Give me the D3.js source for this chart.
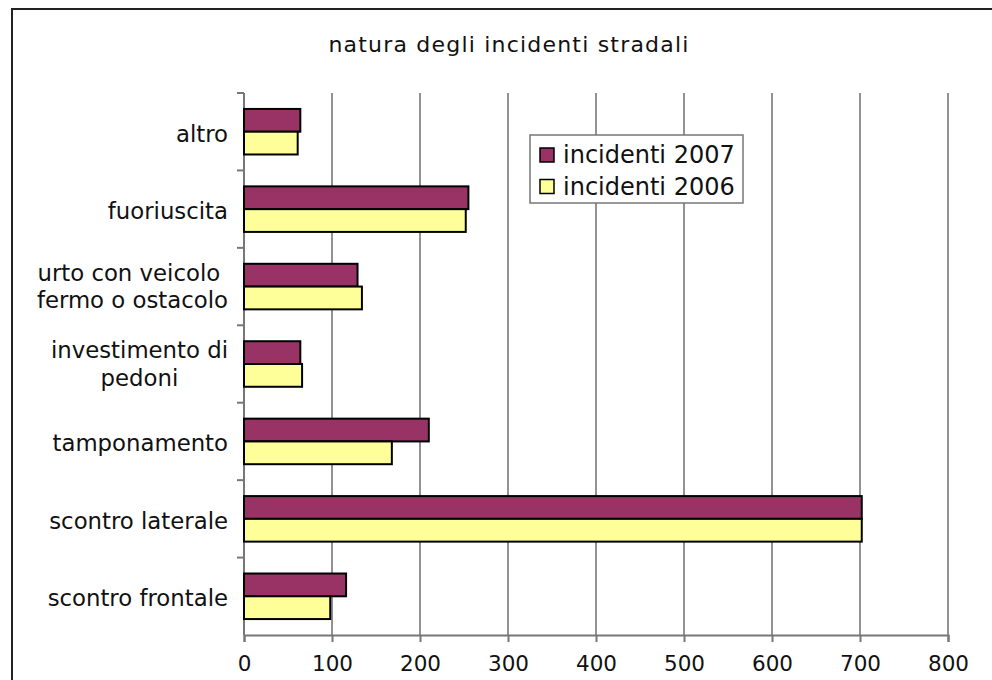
<!DOCTYPE html>
<html>
<head>
<meta charset="utf-8">
<script src="https://cdn.jsdelivr.net/npm/d3@7"></script>
<style>
  body { margin: 0; background: #fff; }
  svg { display: block; font-family: "DejaVu Sans", Verdana, sans-serif; }
</style>
</head>
<body>
<div id="chart"></div>
<script>
// categories (top to bottom) and their label lines
var categories = ["altro", "fuoriuscita", "urto", "investimento", "tamponamento", "laterale", "frontale"];
var categoryLabels = [
  ["altro"],
  ["fuoriuscita"],
  ["urto con veicolo ", "fermo o ostacolo"],
  ["investimento di", "pedoni"],
  ["tamponamento"],
  ["scontro laterale"],
  ["scontro frontale"]
];
var seriesNames = ["incidenti 2007", "incidenti 2006"];
var values2007 = [64, 255, 129, 64, 210, 702, 116];
var values2006 = [61, 252, 134, 66, 168, 702, 98];
var xTicks = [0, 100, 200, 300, 400, 500, 600, 700, 800];
var colors = ["#993366", "#FFFF99"];

var W = 992, H = 680;

// set the dimensions and margins of the graph
var margin = { top: 93, left: 244, right: 992 - 948, bottom: 680 - 635 },
  width = W - margin.left - margin.right,
  height = H - margin.top - margin.bottom;

var svg = d3.select("#chart").append("svg").attr("width", W).attr("height", H);

// outer frame
svg.append("rect")
  .attr("x", 12).attr("y", 9)
  .attr("width", W + 20).attr("height", H + 20)
  .style("fill", "none").style("stroke", "#222").style("stroke-width", 2);

// title
svg.append("text")
  .attr("x", 509).attr("y", 52)
  .attr("text-anchor", "middle")
  .style("font-size", "22px")
  .style("letter-spacing", "1.2px")
  .style("fill", "#111")
  .text("natura degli incidenti stradali");

var g = svg.append("g").attr("transform", "translate(" + margin.left + "," + margin.top + ")");

var x = d3.scaleLinear().domain([0, 800]).range([0, width]);
var y0 = d3.scaleBand().domain(categories).range([0, height]);
var y1 = d3.scaleBand().domain(seriesNames).range([0, y0.bandwidth()]).paddingOuter(0.7);

// vertical gridlines
g.append("g")
  .selectAll("line")
  .data(xTicks.slice(1))
  .enter()
  .append("line")
  .attr("x1", function (d) { return x(d); })
  .attr("x2", function (d) { return x(d); })
  .attr("y1", 0)
  .attr("y2", height)
  .style("stroke", "#6e6e6e")
  .style("stroke-width", 1.5);

// x axis
var xAxis = g.append("g")
  .attr("transform", "translate(0," + height + ")")
  .call(d3.axisBottom(x).tickValues(xTicks).tickSize(7).tickPadding(14));
xAxis.select(".domain").attr("stroke", "#777").attr("stroke-width", 2);
xAxis.selectAll(".tick line").attr("stroke", "#777").attr("stroke-width", 2);
xAxis.selectAll("text")
  .style("font-size", "21.5px")
  .style("font-family", "DejaVu Sans, sans-serif")
  .attr("fill", "#111");

// y axis line with category boundary ticks
g.append("line")
  .attr("x1", 0).attr("x2", 0).attr("y1", 0).attr("y2", height)
  .style("stroke", "#777").style("stroke-width", 2);
g.append("g")
  .selectAll("line")
  .data(categories)
  .enter()
  .append("line")
  .attr("x1", -7).attr("x2", 0)
  .attr("y1", function (d) { return y0(d); })
  .attr("y2", function (d) { return y0(d); })
  .style("stroke", "#777").style("stroke-width", 2);

// category labels
var labels = g.append("g")
  .selectAll("text")
  .data(categories)
  .enter()
  .append("text")
  .attr("text-anchor", "middle")
  .style("font-size", "22.8px")
  .style("fill", "#111");

labels.each(function (d, i) {
  var lines = categoryLabels[i];
  var t = d3.select(this);
  var off = lines.length > 1 ? 8 : 10;
  t.selectAll("tspan")
    .data(lines)
    .enter()
    .append("tspan")
    .attr("x", 0)
    .attr("y", function (l, j) { return (j - (lines.length - 1) / 2) * 27.5 + off; })
    .style("white-space", "pre")
    .text(function (l) { return l; });
  // right align the block near the axis
  var bb = this.getBBox();
  t.attr("transform", "translate(" + (-16 - bb.x - bb.width) + "," + (y0(d) + y0.bandwidth() / 2) + ")");
});

// bars
var rows = categories.map(function (c, i) {
  return { cat: c, vals: [values2007[i], values2006[i]] };
});
g.append("g")
  .selectAll("g")
  .data(rows)
  .enter()
  .append("g")
  .attr("transform", function (d) { return "translate(0," + y0(d.cat) + ")"; })
  .selectAll("rect")
  .data(function (d) {
    return seriesNames.map(function (s, j) { return { s: s, v: d.vals[j], c: colors[j] }; });
  })
  .enter()
  .append("rect")
  .attr("x", 0)
  .attr("y", function (d) { return y1(d.s); })
  .attr("width", function (d) { return x(d.v); })
  .attr("height", y1.bandwidth())
  .style("fill", function (d) { return d.c; })
  .style("stroke", "#000")
  .style("stroke-width", 2);

// legend
var legend = svg.append("g").attr("transform", "translate(530,135)");
legend.append("rect")
  .attr("width", 213).attr("height", 68)
  .style("fill", "#fff").style("stroke", "#777").style("stroke-width", 1.5);
var items = legend.selectAll(".item")
  .data(seriesNames)
  .enter()
  .append("g")
  .attr("class", "item")
  .attr("transform", function (d, i) { return "translate(10," + (13 + i * 31.5) + ")"; });
items.append("rect")
  .attr("width", 14).attr("height", 14)
  .style("fill", function (d, i) { return colors[i]; })
  .style("stroke", "#000").style("stroke-width", 1.5);
items.append("text")
  .attr("x", 23).attr("y", 15)
  .style("font-size", "24px")
  .style("fill", "#111")
  .text(function (d) { return d; });
</script>
</body>
</html>
